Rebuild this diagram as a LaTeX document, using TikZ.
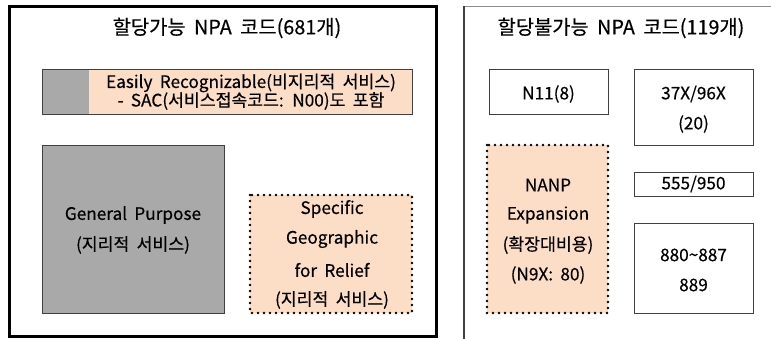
\documentclass[tikz,border=0pt]{standalone}
\usepackage{fontspec}
\setmainfont[WordSpace=1.9, FakeBold=0.4]{Noto Sans CJK KR}
\definecolor{peach}{HTML}{FCDDC6}
\definecolor{boxgray}{HTML}{A9A9A9}
\begin{document}
\begin{tikzpicture}[x=1pt,y=-1pt,
  txt/.style={font=\fontsize{17.2}{18}\selectfont, align=center, inner sep=0pt},
  ttl/.style={font=\fontsize{19.8}{22}\selectfont, align=center, inner sep=0pt},
  plainbox/.style={draw=black!75, line width=0.8pt},
  dotbox/.style={draw=black, line width=2.8pt, dash pattern=on 0pt off 6pt, line cap=round},
]
\useasboundingbox (0,0) rectangle (771,338);
\fill[white] (0,0) rectangle (771,338);
% left outer
\draw[line width=3pt] (9.5,6) rectangle (436.5,336.5);
\node[ttl] (t1) at (227,28) {할당가능 NPA 코드(681개)};
% Easily recognizable
\fill[peach] (42,69) rectangle (412,114);
\fill[boxgray] (42,69) rectangle (89,114);
\draw[plainbox] (42,69) rectangle (412,114);
\node[txt] (er1) at (251,83) {Easily Recognizable(비지리적 서비스)};
\node[txt] (er2) at (251,101) {- SAC(서비스접속코드: N00)도 포함};
% General purpose
\draw[plainbox, fill=boxgray] (42,145) rectangle (224,313);
\node[txt] (gp1) at (133,215) {General Purpose};
\node[txt] (gp2) at (133,245) {(지리적 서비스)};
% Specific
\fill[peach] (250,195) rectangle (412,313);
\draw[dotbox] (250,195) rectangle (412,313);
\node[txt] (s1) at (332,209) {Specific};
\node[txt] (s2) at (332,239) {Geographic};
\node[txt] (s3) at (332,270) {for Relief};
\node[txt] (s4) at (332,300) {(지리적 서비스)};
% right outer
\draw[draw=black!45, line width=1.2pt] (775,6.5) -- (464,6.5);
\draw[draw=black!75, line width=1.2pt] (464,6) -- (464,345);
\node[ttl] (t2) at (621,28) {할당불가능 NPA 코드(119개)};
% N11
\draw[plainbox] (489,69) rectangle (608,114);
\node[txt] (n11) at (548.5,94) {N11(8)};
% 37X
\draw[plainbox] (634,69) rectangle (753,145);
\node[txt] (x1) at (693.5,94) {37X/96X};
\node[txt] (x2) at (693.5,124) {(20)};
% NANP
\fill[peach] (487,145) rectangle (608,313);
\draw[dotbox] (487,145) rectangle (608,313);
\node[txt] (np1) at (548,185) {NANP};
\node[txt] (np2) at (548,215) {Expansion};
\node[txt] (np3) at (548,245) {(확장대비용)};
\node[txt] (np4) at (548,275) {(N9X: 80)};
% 555
\draw[plainbox] (634,172) rectangle (753,196);
\node[txt] (f5) at (693.5,184) {555/950};
% 880
\draw[plainbox] (634,223) rectangle (753,313);
\node[txt] (e1) at (693.5,255) {880\textasciitilde887};
\node[txt] (e2) at (693.5,285) {889};
\end{tikzpicture}
\end{document}
